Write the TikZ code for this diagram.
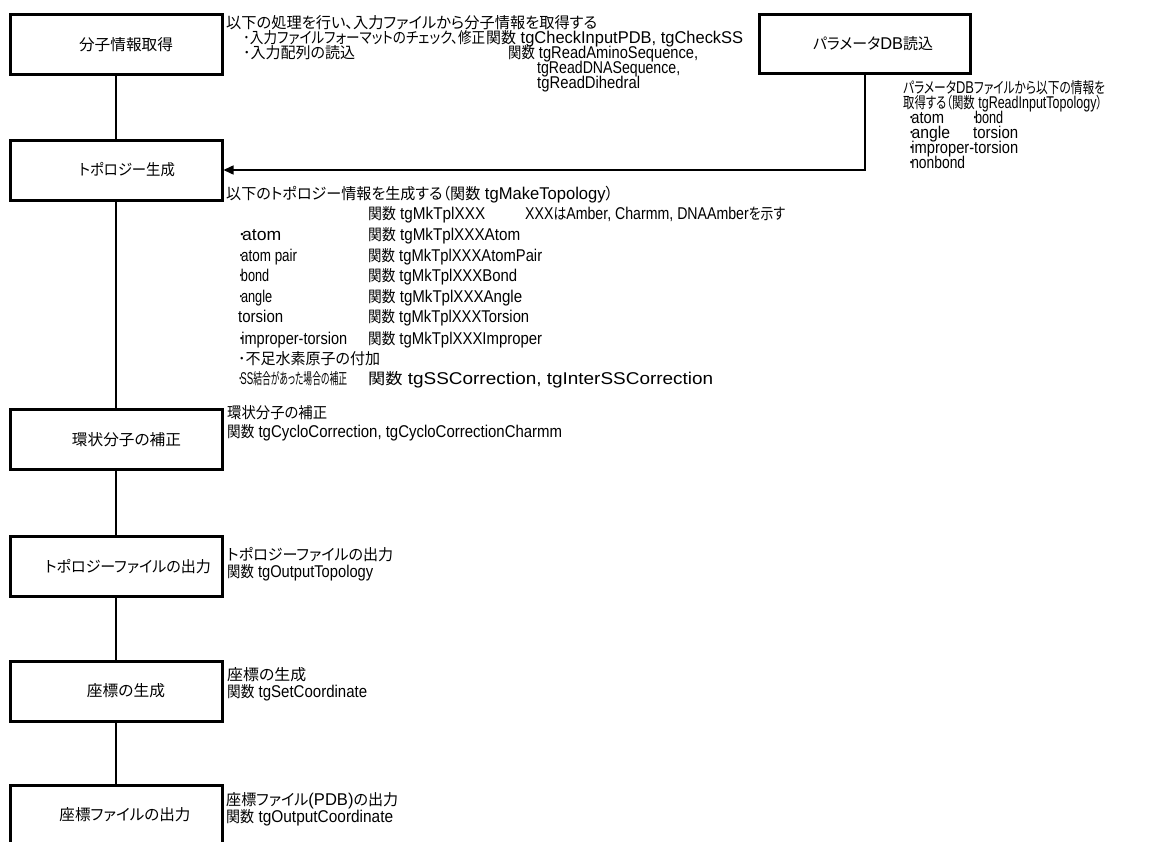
\documentclass[tikz,border=0pt]{standalone}
\usepackage{fontspec}
\usepackage{graphicx}
\usetikzlibrary{arrows.meta}
\setmainfont{Liberation Sans}
\newfontfamily\latf[Scale=1.1]{Liberation Sans}
\newfontfamily\jpf[RawFeature=+palt]{Noto Sans CJK JP}
\XeTeXinterchartokenstate=1
\newXeTeXintercharclass\JPclass
\newcount\cc
\def\setjp#1#2{\cc=#1\relax\loop\XeTeXcharclass\cc=\JPclass\relax\ifnum\cc<#2\relax\advance\cc by 1\relax\repeat}
\setjp{"3000}{"30FF}
\setjp{"4E00}{"9FFF}
\setjp{"FF00}{"FFEF}
\XeTeXinterchartoks 0 \JPclass = {\jpf}
\XeTeXinterchartoks 4095 \JPclass = {\jpf}
\XeTeXinterchartoks \JPclass 0 = {\latf}
\XeTeXinterchartoks \JPclass 4095 = {\latf}
\newcommand\txtfont{\fontsize{15.5}{15.5}\selectfont\latf}
\newcommand\fw[2]{\resizebox{#1pt}{\height}{#2}}
\tikzset{
  box/.style={draw, line width=3pt, minimum width=212pt, minimum height=60pt, inner sep=0pt, font=\txtfont},
  txt/.style={anchor=base west, inner sep=0pt, font=\txtfont},
  conn/.style={line width=2pt},
  feed/.style={line width=1.5pt, -{Triangle[length=10pt,width=9pt]}}
}
\begin{document}
\begin{tikzpicture}[x=1pt,y=-1pt]
\useasboundingbox (0,0) rectangle (1164,841);
\clip (0,0) rectangle (1164,841);
% boxes
\node[box] (n1) at (116,44.7) {\hspace*{20pt}\fw{94}{分子情報取得}};
\node[box] (n2) at (116,170) {\hspace*{22pt}\fw{96}{トポロジー生成}};
\node[box] (n3) at (116,439.5) {\hspace*{21pt}\fw{109}{環状分子の補正}};
\node[box] (n4) at (116,566.5) {\hspace*{24pt}\fw{166}{トポロジーファイルの出力}};
\node[box] (n5) at (116,691) {\hspace*{20pt}\fw{78}{座標の生成}};
\node[box] (n6) at (116,815) {\hspace*{18pt}\fw{131}{座標ファイルの出力}};
\node[box, minimum width=211pt, minimum height=59pt] (pb) at (865,43.5) {\hspace*{16pt}\fw{120}{パラメータDB読込}};
% connectors
\draw[conn] (n1) -- (n2);
\draw[conn] (n2) -- (n3);
\draw[conn] (n3) -- (n4);
\draw[conn] (n4) -- (n5);
\draw[conn] (n5) -- (n6);
\draw[feed] (pb.south) |- (n2.east);
% box 1 text
\node[txt] (a1) at (226,28.5) {\fw{371}{以下の処理を行い、入力ファイルから分子情報を取得する}};
\node[txt] (a2) at (243,43.5) {\fw{242}{･入力ファイルフォーマットのチェック、修正}};
\node[txt] (a3) at (486,43.5) {\fw{257}{関数 tgCheckInputPDB, tgCheckSS}};
\node[txt] (a4) at (243,58.5) {\fw{112}{･入力配列の読込}};
\node[txt] (a5) at (508,58.5) {\fw{190}{関数 tgReadAminoSequence,}};
\node[txt] (a6) at (537,73.5) {\fw{143}{tgReadDNASequence,}};
\node[txt] (a7) at (537,88.5) {\fw{103}{tgReadDihedral}};
% parameter text
\node[txt] (p1) at (903,93.5) {\fw{202}{パラメータDBファイルから以下の情報を}};
\node[txt] (p2) at (903,108.5) {\fw{199}{取得する（関数 tgReadInputTopology）}};
\node[txt] (p3a) at (908,123.5) {\fw{36}{･\kern-4pt atom}};
\node[txt] (p3b) at (972,123.5) {\fw{31}{･\kern-4pt bond}};
\node[txt] (p4a) at (908,138.5) {\fw{42}{･\kern-4pt angle}};
\node[txt] (p4b) at (973,138.5) {\fw{45}{torsion}};
\node[txt] (p5) at (908,153.5) {\fw{110}{･\kern-4pt improper-torsion}};
\node[txt] (p6) at (908,168.5) {\fw{57}{･\kern-4pt nonbond}};
% box 2 text
\node[txt] (b1) at (226,199.5) {\fw{387}{以下のトポロジー情報を生成する（関数 tgMakeTopology）}};
\node[txt] (b2a) at (368,219.5) {\fw{117}{関数 tgMkTplXXX}};
\node[txt] (b2b) at (525,219.5) {\fw{260}{XXXはAmber, Charmm, DNAAmberを示す}};
\node[txt] (b3a) at (238,240.5) {\fw{43}{･\kern-4pt atom}};
\node[txt] (b3b) at (368,240.5) {\fw{152}{関数 tgMkTplXXXAtom}};
\node[txt] (b4a) at (238,261.5) {\fw{59}{･\kern-4pt atom pair}};
\node[txt] (b4b) at (368,261.5) {\fw{174}{関数 tgMkTplXXXAtomPair}};
\node[txt] (b5a) at (238,281.5) {\fw{31}{･\kern-4pt bond}};
\node[txt] (b5b) at (368,281.5) {\fw{149}{関数 tgMkTplXXXBond}};
\node[txt] (b6a) at (238,302.5) {\fw{34}{･\kern-4pt angle}};
\node[txt] (b6b) at (368,302.5) {\fw{154}{関数 tgMkTplXXXAngle}};
\node[txt] (b7a) at (238,322.5) {\fw{45}{torsion}};
\node[txt] (b7b) at (368,322.5) {\fw{161}{関数 tgMkTplXXXTorsion}};
\node[txt] (b8a) at (238,344.5) {\fw{109}{･\kern-4pt improper-torsion}};
\node[txt] (b8b) at (368,344.5) {\fw{174}{関数 tgMkTplXXXImproper}};
\node[txt] (b9) at (238,364.5) {\fw{142}{･不足水素原子の付加}};
\node[txt] (b10a) at (238,384.5) {\fw{109}{･\kern-4pt SS結合があった場合の補正}};
\node[txt] (b10b) at (368,384.5) {\fw{345}{関数 tgSSCorrection, tgInterSSCorrection}};
% box 3 text
\node[txt] (c1) at (227,418.5) {\fw{100}{環状分子の補正}};
\node[txt] (c2) at (227,437.5) {\fw{335}{関数 tgCycloCorrection, tgCycloCorrectionCharmm}};
% box 4 text
\node[txt] (o1) at (227,560.5) {\fw{166}{トポロジーファイルの出力}};
\node[txt] (o2) at (227,577.5) {\fw{146}{関数 tgOutputTopology}};
% box 5 text
\node[txt] (s1) at (227,680.5) {\fw{79}{座標の生成}};
\node[txt] (s2) at (227,697.5) {\fw{140}{関数 tgSetCoordinate}};
% box 6 text
\node[txt] (f1) at (226,805.5) {\fw{172}{座標ファイル(PDB)の出力}};
\node[txt] (f2) at (226,822.5) {\fw{167}{関数 tgOutputCoordinate}};
\end{tikzpicture}
\end{document}
